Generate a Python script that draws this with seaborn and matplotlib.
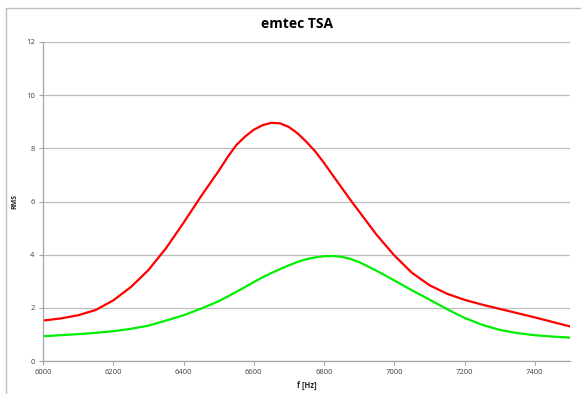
import matplotlib
matplotlib.use("Agg")
import matplotlib.pyplot as plt
from matplotlib.lines import Line2D
import seaborn as sns
import pandas as pd

freq = [6000, 6050, 6100, 6150, 6200, 6250, 6300, 6350, 6400, 6450, 6500,
        6525, 6550, 6575, 6600, 6625, 6650, 6675, 6700, 6725, 6750, 6775,
        6800, 6825, 6850, 6875, 6900, 6950, 7000,
        7050, 7100, 7150, 7200, 7250, 7300, 7350, 7400, 7450, 7500]
red_rms = [1.52, 1.60, 1.72, 1.92, 2.28, 2.78, 3.42, 4.24, 5.20, 6.20, 7.15,
           7.66, 8.12, 8.44, 8.70, 8.87, 8.96, 8.94, 8.80, 8.56, 8.24, 7.88,
           7.45, 6.98, 6.52, 6.06, 5.62, 4.74, 3.97,
           3.32, 2.85, 2.53, 2.30, 2.12, 1.96, 1.80, 1.64, 1.47, 1.30]
green_rms = [0.93, 0.97, 1.01, 1.06, 1.12, 1.21, 1.33, 1.52, 1.72, 1.97, 2.25,
             2.42, 2.60, 2.78, 2.97, 3.15, 3.31, 3.46, 3.60, 3.73, 3.83, 3.90,
             3.94, 3.95, 3.92, 3.84, 3.72, 3.39, 3.03,
             2.66, 2.31, 1.95, 1.62, 1.36, 1.17, 1.05, 0.97, 0.92, 0.88]
xticks = [6000, 6200, 6400, 6600, 6800, 7000, 7200, 7400]
yticks = [0, 2, 4, 6, 8, 10, 12]

df = pd.DataFrame({
    "f": freq * 2,
    "RMS": red_rms + green_rms,
    "series": ["red"] * len(freq) + ["green"] * len(freq),
})

sns.set_style("white")
plt.rcParams["font.family"] = ["Open Sans", "DejaVu Sans"]

fig = plt.figure(figsize=(5.81, 3.94), dpi=100)
ax = fig.add_axes([43 / 581, 1 - 361 / 394, (570 - 43) / 581, (361 - 42) / 394])

sns.lineplot(data=df, x="f", y="RMS", hue="series",
             palette={"red": "#FF0000", "green": "#00F000"},
             linewidth=1.6, legend=False, ax=ax, sort=False)
for ln in ax.get_lines():
    ln.set_solid_joinstyle("round")
    ln.set_solid_capstyle("round")

ax.set_xlim(6000, 7500)
ax.set_ylim(0, 12)
ax.set_xticks(xticks)
ax.set_yticks(yticks)
ax.tick_params(axis="both", labelsize=5.5, colors="#404040", length=3,
               width=0.8, direction="out", pad=3)
ax.tick_params(axis="x", color="#A6A6A6", bottom=True)
ax.tick_params(axis="y", color="#A6A6A6", left=True)
ax.yaxis.grid(True, color="#BFBFBF", linewidth=0.9)
ax.xaxis.grid(False)
ax.set_axisbelow(True)
for side in ["top", "right"]:
    ax.spines[side].set_visible(False)
for side in ["left", "bottom"]:
    ax.spines[side].set_color("#A6A6A6")
    ax.spines[side].set_linewidth(0.9)

ax.set_xlabel("f [Hz]", fontsize=5.5, fontweight="bold", labelpad=3)
ax.set_ylabel("RMS", fontsize=5, fontweight="bold", labelpad=5)

fig.text(297 / 581, 1 - 24 / 394, "emtec TSA", ha="center", va="center",
         fontsize=10, fontweight="bold", color="black")

# outer chart border
fig.add_artist(Line2D([6 / 581, 1.0], [1 - 8 / 394, 1 - 8 / 394],
                      transform=fig.transFigure, color="#BFBFBF", linewidth=1))
fig.add_artist(Line2D([6 / 581, 6 / 581], [1 - 8 / 394, 0.0],
                      transform=fig.transFigure, color="#BFBFBF", linewidth=1))

fig.savefig("out.png", dpi=100)
